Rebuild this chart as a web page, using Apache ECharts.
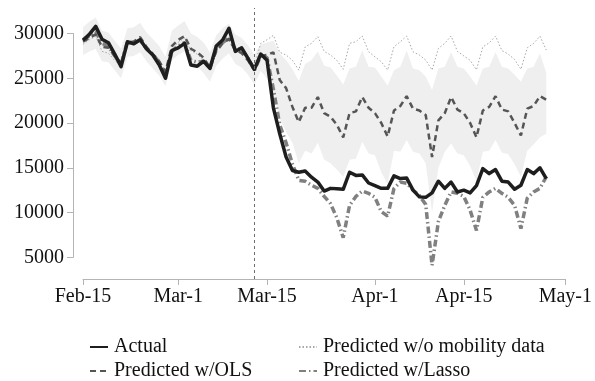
<!DOCTYPE html>
<html>
<head>
<meta charset="utf-8">
<script src="https://cdn.jsdelivr.net/npm/echarts@6/dist/echarts.min.js"></script>
<style>
  html, body { margin: 0; padding: 0; background: #fff; }
  #chart { width: 595px; height: 381px; }
</style>
</head>
<body>
<div id="chart"></div>
<script>
// Daily calendar from Feb 15 to May 1, 2020
const startDate = '2020-02-15';
const dayCount = 77;

// Tick positions on the date axis and their labels
const tickDates = ['2020-02-15', '2020-03-01', '2020-03-15', '2020-04-01', '2020-04-15', '2020-05-01'];
const tickLabels = ['Feb-15', 'Mar-1', 'Mar-15', 'Apr-1', 'Apr-15', 'May-1'];

// Y-axis ticks
const yTickMin = 5000;
const yTickMax = 30000;
const yTickStep = 5000;

// Policy date (vertical reference line)
const policyDate = '2020-03-13';

// Observed daily values, Feb 15 - Apr 28
const actual = [
  29250, 29900, 30800, 29350, 28970, 27700, 26300, 29080, 28850, 29300,
  28300, 27600, 26500, 25000, 28100, 28400, 28900, 26480, 26350, 26900,
  26100, 28600, 29270, 30580, 28000, 28400, 27220, 26000, 27700, 27000,
  21700, 18800, 16200, 14700, 14500, 14650, 13950, 13400, 12400, 12700,
  12650, 12600, 14500, 14150, 14200, 13300, 13000, 12700, 12700, 14100,
  13800, 13850, 12500, 11750, 11700, 12200, 13500, 12700, 13400, 12300,
  12500, 12200, 13000, 14900, 14350, 14800, 13500, 13400, 12600, 13050,
  14800, 14350, 15000, 13800
];

// Prediction from the OLS model with mobility data
const predOLS = [
  29100, 29500, 29900, 28500, 28400, 27500, 26700, 29000, 29100, 29600,
  28500, 27700, 26900, 25700, 28600, 29300, 29700, 28300, 27900, 27300,
  26200, 28000, 28900, 29400, 28200, 27800, 27000, 25900, 27500, 27600,
  27900, 24800, 23900, 21800, 20100, 21700, 21700, 22900, 21100, 20700,
  19800, 18400, 21100, 21300, 22900, 21700, 21100, 20000, 18500, 21400,
  21900, 23000, 21600, 21400, 20900, 16200, 20300, 21100, 22900, 21500,
  21100, 20000, 18400, 21400, 21800, 23000, 21500, 21300, 20000, 18600,
  21600, 21900, 23000, 22600
];

// Prediction without mobility data
const predNoMobility = [
  28800, 29300, 29700, 28000, 27800, 27000, 26300, 28700, 28900, 29400,
  28200, 27500, 26600, 25500, 28300, 29000, 29500, 28100, 27700, 27000,
  26000, 28200, 29000, 29600, 28400, 28000, 27200, 26300, 28900, 29300,
  29800, 27900, 27600, 27000, 25900, 28500, 28900, 29650, 28000, 27600,
  27000, 26000, 28900, 29080, 29720, 27960, 27400, 26850, 25920, 28520,
  29080, 29720, 27960, 27600, 27030, 25920, 28340, 28900, 29720, 28000,
  27500, 27000, 25950, 28500, 28950, 29700, 28100, 27700, 27100, 26000,
  28400, 28900, 29700, 28150
];

// Prediction from the Lasso model with mobility data
const predLasso = [
  29300, 29700, 30200, 28900, 28600, 27500, 26600, 29100, 28900, 29300,
  28300, 27700, 26800, 25500, 28000, 28600, 29000, 27000, 26800, 26900,
  26100, 28300, 29000, 29500, 28200, 28300, 27200, 25900, 27500, 27300,
  23800, 19800, 17800, 15400, 13600, 13500, 13050, 12700, 11800, 11000,
  9400, 7200, 10800, 11800, 12400, 12150, 11700, 10100, 9600, 12700,
  13400, 13270, 12500, 11900, 10900, 4100, 9000, 10800, 12300, 12150,
  11800, 10250, 8000, 11700, 12300, 12700, 12150, 11700, 10800, 8200,
  11600, 12300, 12700, 14000
];

// Interval band around the predictions
const bandUpper = [
  30700, 31300, 31800, 30300, 30100, 29200, 28300, 30600, 30700, 31200,
  30100, 29400, 28600, 27400, 30300, 30900, 31400, 30000, 29600, 29000,
  27900, 29800, 30600, 31100, 29900, 29500, 28700, 27600, 28800, 29000,
  29200, 27800, 27000, 26000, 24700, 26600, 27000, 28000, 26400, 26200,
  25300, 24300, 26100, 26300, 28100, 26300, 26200, 25200, 24200, 25900,
  26300, 28100, 26100, 25900, 25200, 23700, 26100, 26300, 27900, 26300,
  26100, 25200, 24200, 26100, 26300, 27900, 26300, 26100, 25400, 24600,
  26100, 26300, 27800, 25600
];
const bandLower = [
  27600, 28000, 28300, 26900, 26800, 25900, 25000, 27400, 27500, 27900,
  26900, 26100, 25300, 24100, 27000, 27600, 28000, 26700, 26300, 25600,
  24600, 26400, 27200, 27800, 26600, 26200, 25400, 24300, 25800, 25000,
  23500, 20500, 19000, 17800, 15500, 16900, 16600, 17800, 15900, 15500,
  14800, 14000, 15900, 16000, 17900, 16600, 16400, 14500, 13200, 16900,
  16800, 18100, 16800, 16600, 15500, 10000, 15000, 16800, 17700, 16600,
  16400, 15200, 13500, 16800, 16900, 18100, 16700, 16500, 15400, 14000,
  16900, 17600, 18400, 18800
];

// ---- build the date categories ----
function isoDay(d) {
  return d.toISOString().slice(0, 10);
}
const categories = [];
{
  const d0 = new Date(startDate + 'T00:00:00Z');
  for (let i = 0; i < dayCount; i++) {
    categories.push(isoDay(new Date(d0.getTime() + i * 86400000)));
  }
}
const bandSpan = bandUpper.map((u, i) => u - bandLower[i]);

const FONT = 'Liberation Serif';
const AXIS_GRAY = '#b4b4b4';
const showTick = (idx, val) => tickDates.indexOf(val) !== -1;

const chart = echarts.init(document.getElementById('chart'), null, { renderer: 'canvas' });

const lineBase = { type: 'line', symbol: 'none', showSymbol: false, smooth: false, xAxisIndex: 0, yAxisIndex: 0, silent: true, emphasis: { disabled: true } };

// one legend box per entry, laid out as a 2 x 2 block
function legendEntry(name, left, top) {
  return {
    data: [name],
    left: left,
    top: top,
    itemWidth: 18,
    itemHeight: 12,
    selectedMode: false,
    itemStyle: { color: 'transparent', borderWidth: 0, opacity: 0 },
    textStyle: { fontFamily: FONT, fontSize: 20, color: '#111', padding: [0, 0, 0, 1] }
  };
}

chart.setOption({
  animation: false,
  backgroundColor: '#ffffff',
  textStyle: { fontFamily: FONT },
  grid: [
    // plotting area
    { left: 83, right: 26, top: 8, bottom: 102, containLabel: false },
    // carries the labelled value axis
    { left: 73, width: 1, top: 33.5, bottom: 123.7, containLabel: false }
  ],
  xAxis: [
    {
      gridIndex: 0,
      type: 'category',
      data: categories,
      boundaryGap: false,
      axisLine: { show: true, lineStyle: { color: AXIS_GRAY, width: 1 } },
      axisTick: { show: true, interval: showTick, length: 6, lineStyle: { color: AXIS_GRAY } },
      axisLabel: {
        show: true,
        interval: showTick,
        margin: 8,
        fontFamily: FONT,
        fontSize: 20,
        color: '#111',
        formatter: (val) => tickLabels[tickDates.indexOf(val)]
      },
      splitLine: { show: false }
    },
    { gridIndex: 1, type: 'value', min: 0, max: 1, show: false }
  ],
  yAxis: [
    { gridIndex: 0, type: 'value', min: 2576, max: 32849, show: false, splitLine: { show: false } },
    {
      gridIndex: 1,
      type: 'value',
      min: yTickMin,
      max: yTickMax,
      interval: yTickStep,
      axisLine: { show: true, lineStyle: { color: AXIS_GRAY, width: 1 } },
      axisTick: { show: true, length: 6, lineStyle: { color: AXIS_GRAY } },
      axisLabel: { margin: 9, fontFamily: FONT, fontSize: 20, color: '#111', formatter: (v) => String(v) },
      splitLine: { show: false }
    }
  ],
  legend: [
    legendEntry('Actual', 84, 332),
    legendEntry('Predicted w/OLS', 84, 356),
    legendEntry('Predicted w/o mobility data', 293, 332),
    legendEntry('Predicted w/Lasso', 293, 356)
  ],
  series: [
    Object.assign({}, lineBase, {
      name: 'band-low', data: bandLower, stack: 'band',
      lineStyle: { opacity: 0, width: 0 }
    }),
    Object.assign({}, lineBase, {
      name: 'band-span', data: bandSpan, stack: 'band',
      lineStyle: { opacity: 0, width: 0 },
      areaStyle: { color: '#efefef', opacity: 1 }
    }),
    Object.assign({}, lineBase, {
      name: 'Predicted w/o mobility data', data: predNoMobility,
      lineStyle: { color: '#a8a8a8', width: 1, type: [1.5, 2] }
    }),
    Object.assign({}, lineBase, {
      name: 'Predicted w/Lasso', data: predLasso,
      lineStyle: { color: '#808080', width: 3.5, type: [7, 3, 1.5, 3] }
    }),
    Object.assign({}, lineBase, {
      name: 'Predicted w/OLS', data: predOLS,
      lineStyle: { color: '#555555', width: 2.5, type: [6, 4] }
    }),
    Object.assign({}, lineBase, {
      name: 'Actual', data: actual,
      lineStyle: { color: '#1e1e1e', width: 3.5, join: 'round' },
      markLine: {
        silent: true,
        symbol: 'none',
        label: { show: false },
        lineStyle: { color: '#6e6e6e', width: 1, type: [3, 3] },
        data: [{ xAxis: policyDate }]
      }
    })
  ]
});
</script>
</body>
</html>
